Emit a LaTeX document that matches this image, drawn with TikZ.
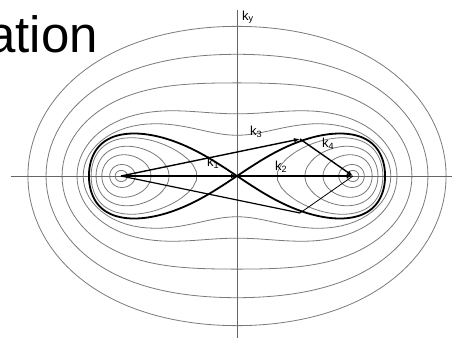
\documentclass[tikz,border=0pt]{standalone}
\usepackage{fontspec}
\setmainfont{Liberation Sans}
\usetikzlibrary{arrows.meta}

\begin{document}
\begin{tikzpicture}[
    x=1pt, y=1pt,
    declare function={
      wx(\q)=\q+0.108*\q*(2-\q*\q);
      rx(\ba,\ph)=(1+2*\ba*cos(\ph)+\ba*\ba)^0.25*cos(atan2(\ba*sin(\ph),1+\ba*cos(\ph))/2);
      ry(\ba,\ph)=(1+2*\ba*cos(\ph)+\ba*\ba)^0.25*sin(atan2(\ba*sin(\ph),1+\ba*cos(\ph))/2);
      orr(\ba,\ph)=sqrt(cos(2*\ph)+sqrt(\ba*\ba-sin(2*\ph)*sin(2*\ph)));
      sr(\ph)=sqrt(2*cos(\ph/2));
    },
    isoline/.style={draw=black!52, line width=0.8pt},
    separatrix/.style={draw=black, line width=1.8pt, line join=round},
    kaxis/.style={draw=black!60, line width=0.7pt},
    kvec/.style={draw=black, line width=1.4pt, -{Latex[length=6pt,width=4.5pt]}},
    klabel/.style={font=\fontsize{13}{13}\selectfont, inner sep=0pt, anchor=base west}
]
    \useasboundingbox (-237,-162) rectangle (215,176);
    \clip (-237,-162) rectangle (215,176);

    \node[anchor=base east, inner sep=0pt, font=\fontsize{51}{51}\selectfont] (title) at (-139,124) {ation};

    \coordinate (S) at (0,0);
    \coordinate (F1) at (-116,0);
    \coordinate (F2) at (116,0);
    \coordinate (P) at (63,37);
    \coordinate (Q) at (63,-37);
    \coordinate (xl) at (-226,0);
    \coordinate (xr) at (215,0);
    \coordinate (yb) at (0,-162);
    \coordinate (yt) at (0,166);

    % rings round the two minima
    \foreach \B in {0.13,0.27,0.5,0.7,0.9} {
      \draw[isoline] plot[domain=0:360, samples=90] ({104.7*wx(rx(\B,\x))}, {85*ry(\B,\x)}) -- cycle;
      \draw[isoline] plot[domain=0:360, samples=90] ({-104.7*wx(rx(\B,\x))}, {85*ry(\B,\x)}) -- cycle;
    }
    % outer levels
    \foreach \B/\xs in {1.23/103,1.535/100.5,2.2/97.8,3.05/94.9,4.1/92.6} {
      \draw[isoline] plot[domain=0:360, samples=145] ({\xs*orr(\B,\x)*cos(\x)}, {85*orr(\B,\x)*sin(\x)}) -- cycle;
    }

    \draw[kaxis] (xl) -- (xr);
    \draw[kaxis] (yb) -- (yt);
    \node[klabel] (ky) at (5,156) {k\textsubscript{y}};

    \draw[separatrix] (S) -- plot[domain=-179:179, samples=120] ({104.7*wx(sr(\x)*cos(\x/4))}, {85*sr(\x)*sin(\x/4)}) -- cycle;
    \draw[separatrix] (S) -- plot[domain=-179:179, samples=120] ({-104.7*wx(sr(\x)*cos(\x/4))}, {85*sr(\x)*sin(\x/4)}) -- cycle;

    \draw[kvec] (F1) -- (S);
    \draw[kvec] (S) -- (F2);
    \draw[kvec] (F1) -- (P);
    \draw[kvec] (P) -- (F2);
    \draw[line width=1.2pt] (F1) -- (Q);
    \draw[line width=0.8pt] (Q) -- (F2);

    \node[klabel] (k1) at (-30,10) {k\textsubscript{1}};
    \node[klabel] (k2) at (38,6) {k\textsubscript{2}};
    \node[klabel] (k3) at (13,41) {k\textsubscript{3}};
    \node[klabel] (k4) at (85,29) {k\textsubscript{4}};
\end{tikzpicture}
\end{document}
